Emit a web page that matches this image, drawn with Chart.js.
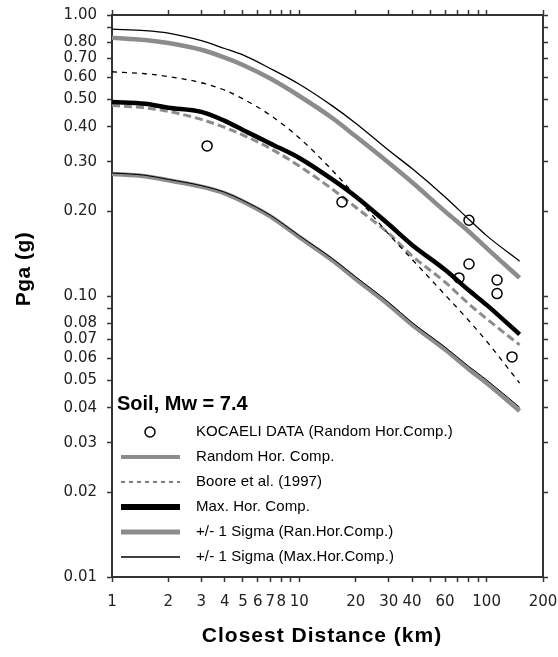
<!DOCTYPE html>
<html lang="en">
<head>
<meta charset="UTF-8">
<title>Pga vs Closest Distance</title>
<script src="https://cdn.jsdelivr.net/npm/chart.js"></script>
<style>
  body { margin: 0; background: #fff; }
  canvas { display: block; }
</style>
</head>
<body>
<canvas id="pgaChart" width="558" height="657"></canvas>
<script>
const distances = [1, 1.5, 2, 3, 4, 5, 7, 10, 15, 20, 30, 40, 60, 80, 100, 150];

// curves, pga in g
const maxPlusSigma = [0.89, 0.88, 0.862, 0.81, 0.76, 0.721, 0.645, 0.567, 0.475, 0.412, 0.33, 0.284, 0.225, 0.188, 0.164, 0.133];
const ranPlusSigma = [0.83, 0.815, 0.795, 0.752, 0.705, 0.664, 0.594, 0.515, 0.43, 0.37, 0.298, 0.254, 0.2, 0.17, 0.148, 0.116];
const booreCurve   = [0.628, 0.618, 0.604, 0.574, 0.54, 0.503, 0.44, 0.365, 0.28, 0.227, 0.166, 0.135, 0.101, 0.082, 0.069, 0.049];
const maxHorComp   = [0.49, 0.483, 0.468, 0.452, 0.42, 0.39, 0.349, 0.31, 0.26, 0.226, 0.18, 0.152, 0.124, 0.105, 0.093, 0.073];
const ranHorComp   = [0.476, 0.467, 0.454, 0.425, 0.398, 0.374, 0.335, 0.29, 0.24, 0.207, 0.167, 0.139, 0.112, 0.094, 0.083, 0.067];
const ranMinusSigma = [0.272, 0.267, 0.258, 0.245, 0.232, 0.217, 0.192, 0.162, 0.134, 0.115, 0.093, 0.079, 0.0645, 0.055, 0.049, 0.039];
const maxMinusSigma = [0.274, 0.269, 0.26, 0.247, 0.234, 0.219, 0.194, 0.164, 0.136, 0.117, 0.095, 0.0805, 0.0658, 0.0563, 0.0503, 0.0402];

// Kocaeli recordings (random horizontal component)
const kocaeliDist = [3.22, 16.9, 80.5, 80.5, 71.2, 113.7, 113.7, 136.7];
const kocaeliPga  = [0.342, 0.216, 0.186, 0.130, 0.116, 0.114, 0.102, 0.0607];

// axis ticks
const xTickValues = [1, 2, 3, 4, 5, 6, 7, 8, 9, 10, 20, 30, 40, 50, 60, 70, 80, 90, 100, 200];
const xTickLabels = [1, 2, 3, 4, 5, 6, 7, 8, 10, 20, 30, 40, 60, 100, 200];
const yTickValues = [0.01, 0.02, 0.03, 0.04, 0.05, 0.06, 0.07, 0.08, 0.09, 0.1, 0.2, 0.3, 0.4, 0.5, 0.6, 0.7, 0.8, 0.9, 1];
const yTickLabels = [0.01, 0.02, 0.03, 0.04, 0.05, 0.06, 0.07, 0.08, 0.1, 0.2, 0.3, 0.4, 0.5, 0.6, 0.7, 0.8, 1];

const xTitle = 'Closest Distance (km)';
const yTitle = 'Pga (g)';
const plotTitle = 'Soil, Mw = 7.4';
const legendLabels = [
  'KOCAELI DATA (Random Hor.Comp.)',
  'Random Hor. Comp.',
  'Boore et al. (1997)',
  'Max. Hor. Comp.',
  '+/- 1 Sigma (Ran.Hor.Comp.)',
  '+/- 1 Sigma (Max.Hor.Comp.)'
];

const GREY = '#8c8c8c';
const AXIS = '#333';
const FONT = '"Liberation Sans", Arial, sans-serif';
const TICK_FONT = '"DejaVu Sans", sans-serif';

function toPoints(xs, ys) {
  return xs.map((x, i) => ({ x: x, y: ys[i] }));
}

function curve(label, ys, color, width, dash, order) {
  return {
    label: label,
    data: toPoints(distances, ys),
    borderColor: color,
    borderWidth: width,
    borderDash: dash,
    pointRadius: 0,
    cubicInterpolationMode: 'monotone',
    fill: false,
    order: order
  };
}

// axis titles and the in-plot legend are drawn by hand
const overlayText = {
  id: 'overlayText',
  afterDraw(chart) {
    const ctx = chart.ctx;
    ctx.save();
    ctx.fillStyle = '#000';
    ctx.textAlign = 'center';
    ctx.textBaseline = 'middle';
    ctx.font = 'bold 21px ' + FONT;
    ctx.letterSpacing = '1px';
    ctx.fillText(xTitle, 322, 636);
    ctx.letterSpacing = '0.5px';
    ctx.translate(24, 269);
    ctx.rotate(-Math.PI / 2);
    ctx.fillText(yTitle, 0, 0);
    ctx.restore();

    ctx.save();
    ctx.fillStyle = '#000';
    ctx.textBaseline = 'middle';
    ctx.textAlign = 'left';
    ctx.font = 'bold 20px ' + FONT;
    ctx.fillText(plotTitle, 117, 404);

    const samples = [
      { marker: true },
      { color: GREY, width: 4, dash: [] },
      { color: '#000', width: 1, dash: [4, 4] },
      { color: '#000', width: 6, dash: [] },
      { color: GREY, width: 5, dash: [] },
      { color: '#000', width: 1.5, dash: [] }
    ];
    ctx.font = '15px ' + FONT;
    ctx.letterSpacing = '0.1px';
    legendLabels.forEach((text, i) => {
      const y = 432 + i * 25;
      const s = samples[i];
      if (s.marker) {
        ctx.beginPath();
        ctx.lineWidth = 1.5;
        ctx.strokeStyle = '#000';
        ctx.arc(150, y, 5, 0, Math.PI * 2);
        ctx.stroke();
      } else {
        ctx.beginPath();
        ctx.setLineDash(s.dash);
        ctx.lineWidth = s.width;
        ctx.strokeStyle = s.color;
        ctx.moveTo(121, y);
        ctx.lineTo(180, y);
        ctx.stroke();
        ctx.setLineDash([]);
      }
      ctx.fillText(text, 196, y);
    });
    ctx.restore();
  }
};

function axisBase(position, min, max, tickValues) {
  return {
    type: 'logarithmic',
    position: position,
    min: min,
    max: max,
    afterBuildTicks: (scale) => {
      scale.ticks = tickValues.map(v => ({ value: v }));
    },
    grid: {
      drawOnChartArea: false,
      drawTicks: true,
      tickLength: 5,
      tickColor: AXIS,
      tickWidth: 1.5
    },
    border: { display: true, color: AXIS, width: 2 }
  };
}

// fixed box sizes so the plot area lands at 112..543 x 15..577
function fixSize(prop, size) {
  return (scale) => {
    scale[prop] = size;
    scale.paddingLeft = 0;
    scale.paddingRight = 0;
    scale.paddingTop = 0;
    scale.paddingBottom = 0;
  };
}

const xAxis = axisBase('bottom', 1, 200, xTickValues);
xAxis.ticks = {
  autoSkip: false,
  maxRotation: 0,
  minRotation: 0,
  padding: 11,
  color: '#222',
  font: { family: TICK_FONT, size: 15 },
  callback: (v) => xTickLabels.includes(v) ? String(v) : ''
};
xAxis.afterFit = fixSize('height', 80);

const xTop = axisBase('top', 1, 200, xTickValues);
xTop.ticks = { display: false };
xTop.afterFit = fixSize('height', 15);

const yAxis = axisBase('left', 0.01, 1, yTickValues);
yAxis.ticks = {
  autoSkip: false,
  padding: 10,
  color: '#222',
  font: { family: TICK_FONT, size: 15 },
  callback: (v) => yTickLabels.some(l => Math.abs(l - v) < 1e-9) ? v.toFixed(2) : ''
};
yAxis.afterFit = fixSize('width', 112);

const yRight = axisBase('right', 0.01, 1, yTickValues);
yRight.ticks = { display: false };
yRight.afterFit = fixSize('width', 15);

const ctx = document.getElementById('pgaChart').getContext('2d');
new Chart(ctx, {
  type: 'line',
  data: {
    datasets: [
      {
        label: 'KOCAELI DATA (Random Hor.Comp.)',
        data: toPoints(kocaeliDist, kocaeliPga),
        showLine: false,
        pointStyle: 'circle',
        pointRadius: 5,
        pointBorderWidth: 1.5,
        pointBorderColor: '#000',
        pointBackgroundColor: 'rgba(0,0,0,0)',
        order: 0
      },
      curve('Max. Hor. Comp.', maxHorComp, '#000', 4.5, [], 1),
      curve('+/- 1 Sigma (Max.Hor.Comp.)', maxPlusSigma, '#000', 1.3, [], 2),
      curve('+/- 1 Sigma (Max.Hor.Comp.) lower', maxMinusSigma, '#000', 1, [], 3),
      curve('Boore et al. (1997)', booreCurve, '#000', 1.3, [5, 5], 4),
      curve('Random Hor. Comp.', ranHorComp, GREY, 3, [8, 4], 5),
      curve('+/- 1 Sigma (Ran.Hor.Comp.)', ranPlusSigma, GREY, 4.5, [], 6),
      curve('+/- 1 Sigma (Ran.Hor.Comp.) lower', ranMinusSigma, GREY, 4.5, [], 7)
    ]
  },
  options: {
    responsive: false,
    animation: false,
    layout: { padding: 0 },
    plugins: {
      legend: { display: false },
      tooltip: { enabled: false }
    },
    scales: {
      x: xAxis,
      x2: xTop,
      y: yAxis,
      y2: yRight
    }
  },
  plugins: [overlayText]
});
</script>
</body>
</html>
